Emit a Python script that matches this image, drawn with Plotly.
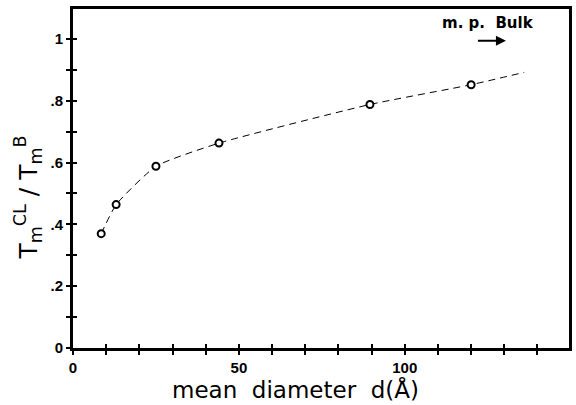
import plotly.graph_objects as go

# data
diameter = [8.5, 13, 25, 44, 89.5, 120]
ratio = [0.37, 0.464, 0.588, 0.663, 0.788, 0.852]
# dashed guide curve continues past the last point
curve_d = diameter + [136]
curve_ratio = ratio + [0.892]

x_tickvals = [0, 50, 100]
x_ticktext = ["0", "50", "100"]
y_tickvals = [0, 0.2, 0.4, 0.6, 0.8, 1.0]
y_ticktext = ["0", ".2", ".4", ".6", ".8", "1"]

X_RANGE = [0, 149.5]
Y_RANGE = [0, 1.097]

fig = go.Figure()
fig.add_trace(go.Scatter(
    x=curve_d, y=curve_ratio, mode="lines",
    line=dict(color="black", width=1, dash="7px,5px", shape="spline", smoothing=0.5),
    hoverinfo="skip", showlegend=False))
fig.add_trace(go.Scatter(
    x=diameter, y=ratio, mode="markers",
    marker=dict(symbol="circle", size=7, color="white", line=dict(color="black", width=2)),
    showlegend=False))
# invisible trace to activate overlay axes
fig.add_trace(go.Scatter(x=[None], y=[None], xaxis="x2", yaxis="y2", showlegend=False))

tickfont = dict(family="Liberation Sans", size=15, color="black", weight="bold")
common = dict(showgrid=False, zeroline=False, linecolor="black", tickcolor="black")

fig.update_layout(
    width=576, height=405,
    margin=dict(l=73, r=4, t=9, b=57),
    paper_bgcolor="white", plot_bgcolor="white",
    xaxis=dict(range=X_RANGE, tickvals=x_tickvals, ticktext=x_ticktext,
               ticks="outside", ticklen=4, tickwidth=1.5, linewidth=2.5, mirror=True,
               tickfont=tickfont,
               minor=dict(dtick=10, tick0=0, ticks="outside", ticklen=4, tickwidth=1.5, tickcolor="black"),
               **common),
    yaxis=dict(range=Y_RANGE, tickvals=y_tickvals, ticktext=y_ticktext,
               ticks="outside", ticklen=4, tickwidth=1.5, linewidth=3, mirror=True,
               tickfont=tickfont,
               minor=dict(dtick=0.1, tick0=0, ticks="outside", ticklen=4, tickwidth=1.5, tickcolor="black"),
               **common),
    xaxis2=dict(range=X_RANGE, overlaying="x", anchor="y2", side="bottom",
                dtick=10, ticks="inside", ticklen=4, tickwidth=1.5, showticklabels=False,
                showline=False, **common),
    yaxis2=dict(range=Y_RANGE, overlaying="y", anchor="x2", side="left",
                dtick=0.1, ticks="inside", ticklen=4, tickwidth=1.5, showticklabels=False,
                showline=False, **common),
    annotations=[
        dict(text="mean\u00a0\u00a0diameter\u00a0\u00a0d(Å)", xref="paper", yref="paper",
             x=0.449, y=-0.123, xanchor="center", yanchor="middle", showarrow=False,
             font=dict(family="DejaVu Sans", size=23, color="black")),
        dict(text="T<sub>m</sub><sup>CL</sup> / T<sub>m</sub><sup>B</sup>", xref="paper", yref="paper",
             x=-0.09, y=0.445, xanchor="center", yanchor="middle", showarrow=False, textangle=-90,
             font=dict(family="DejaVu Sans", size=25, color="black")),
        dict(text="m. p.  Bulk", xref="paper", yref="paper",
             x=0.836, y=0.959, xanchor="center", yanchor="middle", showarrow=False,
             font=dict(family="DejaVu Sans", size=15, color="black", weight="bold")),
        dict(text="", x=130.5, y=0.994, ax=121.6, ay=0.994, xref="x", yref="y",
             axref="x", ayref="y", showarrow=True, arrowhead=2, arrowsize=1,
             arrowwidth=2, arrowcolor="black"),
    ],
)
fig.write_html("out.html")
